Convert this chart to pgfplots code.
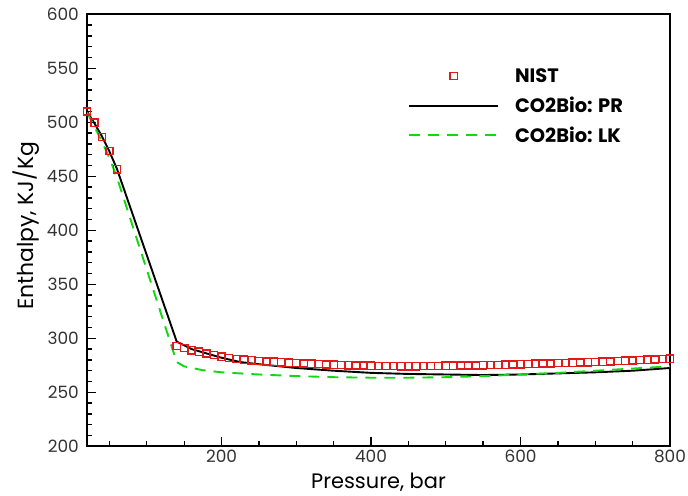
\documentclass[border=0pt]{standalone}
\usepackage{fontspec}
\setmainfont{Poppins}
\usepackage{pgfplots}
\pgfplotsset{compat=1.18}
\definecolor{nistred}{RGB}{225,25,25}
\definecolor{lkgreen}{RGB}{20,215,20}
\pgfplotsset{
  linelegend/.style={legend image code/.code={\draw[##1] (0bp,0bp) -- (89bp,0bp);}},
  marklegend/.style={legend image code/.code={\draw[mark repeat=2,mark phase=2,##1] plot coordinates {(0bp,0bp) (44.5bp,0bp) (89bp,0bp)};}},
}
\begin{document}
\begin{tikzpicture}
\begin{axis}[
  name=ax,
  scale only axis,
  width=583bp, height=432bp,
  xmin=20, xmax=800, ymin=200, ymax=600,
  xtick={200,400,600,800},
  minor xtick={50,100,...,750},
  ytick={200,250,...,600},
  minor ytick={200,210,...,600},
  xtick pos=bottom, ytick pos=left,
  tick align=inside,
  major tick length=9bp, minor tick length=5bp,
  every tick/.style={black, line width=1.3bp},
  axis line style={black, line width=1.8bp},
  /pgf/number format/assume math mode=true,
  ticklabel style={font=\fontsize{17}{20}\selectfont, text=black!80},
  yticklabel style={inner sep=0pt, xshift=-8bp},
  xlabel={Pressure, bar},
  ylabel={Enthalpy, KJ/Kg},
  xlabel style={font=\fontsize{21}{24}\selectfont, at={(axis description cs:0.5,-0.0972)}, anchor=base, inner sep=0pt},
  ylabel style={font=\fontsize{22}{24}\selectfont, at={(axis description cs:-0.0926,0.51)}, anchor=base, inner sep=0pt},
  linelegend,
  legend style={draw=none, fill=none, at={(0.5506,0.874)}, anchor=north west,
    inner sep=0pt, row sep=15.7bp,
    font=\bfseries\fontsize{19.5}{20}\selectfont,
    nodes={inner sep=0pt, text height=14bp, text depth=0bp},
    /tikz/every odd column/.append style={column sep=16bp}},
  legend cell align=left,
]
\addplot[only marks, mark=square, mark size=3.6bp, mark options={draw=nistred, line width=1.5bp}, marklegend]
coordinates {
(20,510)(30,499.5)(40,486.5)(50,473.5)(60,456.5)
(140,293)(150,291)(160,289)(170,287.5)(180,286)(190,284.5)(200,283)(210,281.8)(220,280.8)(230,280.2)(240,279.6)
(250,279)(260,278.6)(270,278.2)(280,277.8)(290,277.4)(300,277)(310,276.7)(320,276.4)(330,276.1)(340,275.8)
(350,275.5)(360,275.3)(370,275.1)(380,274.9)(390,274.7)(400,274.5)(410,274.4)(420,274.3)(430,274.3)(440,274.2)
(450,274.2)(460,274.2)(470,274.3)(480,274.3)(490,274.4)(500,274.5)(510,274.6)(520,274.7)(530,274.8)(540,274.9)
(550,275)(560,275.2)(570,275.4)(580,275.6)(590,275.8)(600,276)(610,276.2)(620,276.4)(630,276.6)(640,276.8)
(650,277)(660,277.2)(670,277.4)(680,277.6)(690,277.8)(700,278)(710,278.3)(720,278.6)(730,278.9)(740,279.2)
(750,279.5)(760,279.8)(770,280.1)(780,280.4)(790,280.7)(800,281)
};
\addlegendentry{NIST}
\addplot[black, line width=1.9bp] coordinates {
(20,510)(30,499)(40,487)(50,473)(60,457)(140,297)(160,290)(180,286)(200,282)(225,278)(250,276)(300,272.5)
(350,270)(400,268)(450,267)(500,266.5)(550,266)(600,266.5)(650,267.5)(700,268.5)(750,270)(800,272.5)
};
\addlegendentry{CO2Bio: PR}
\addplot[lkgreen, line width=1.9bp, dash pattern=on 11bp off 8bp] coordinates {
(20,509)(30,496)(40,482)(50,467)(60,449)(140,278)(150,274)(175,270.5)(200,268.5)(250,266.5)(300,265)
(350,264)(400,263.5)(450,263.5)(500,264)(550,265)(600,266.5)(650,268)(700,270)(750,272)(800,274)
};
\addlegendentry{CO2Bio: LK}
\end{axis}
\pgfresetboundingbox
\path ([shift={(-87bp,-48.7bp)}]ax.south west) rectangle ([shift={(18bp,14.3bp)}]ax.north east);
\end{tikzpicture}
\end{document}
